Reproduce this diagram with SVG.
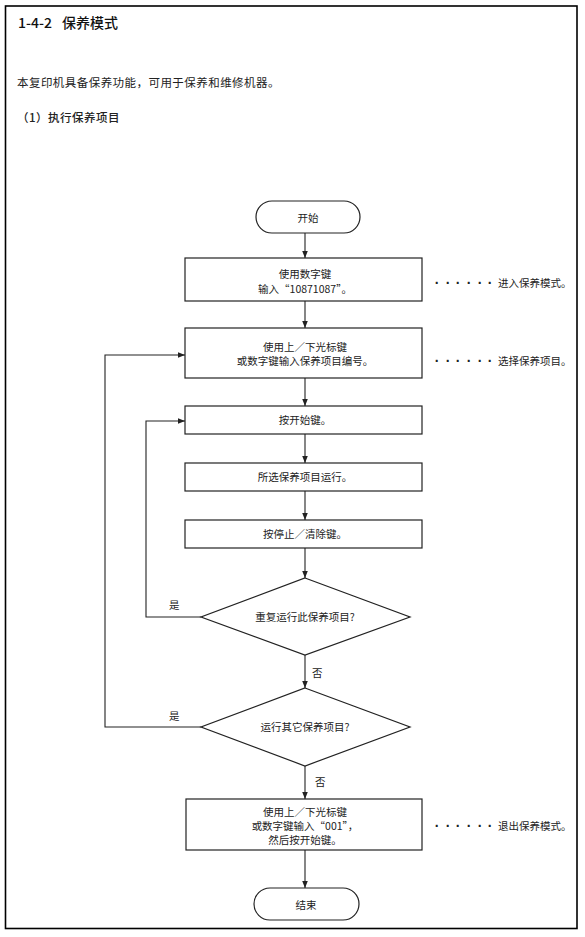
<svg xmlns="http://www.w3.org/2000/svg" width="585" height="937" viewBox="0 0 585 937">
<defs>
<marker id="ah" markerWidth="8" markerHeight="8" refX="7" refY="4" orient="auto" markerUnits="userSpaceOnUse">
<path d="M0,1.2 L7,4 L0,6.8 Z" fill="#222"/>
</marker>
<style>
.t{font-family:"Noto Sans CJK SC","Liberation Sans",sans-serif;font-size:10.5px;fill:#222;text-anchor:middle}
.s{font-family:"Noto Sans CJK SC","Liberation Sans",sans-serif;font-size:10.5px;fill:#222}
.d{font-family:"Liberation Sans",sans-serif;font-size:14px;font-weight:bold;fill:#222;text-anchor:middle}
.n{fill:#fff;stroke:#222;stroke-width:1.2}
.c{fill:none;stroke:#222;stroke-width:1.1;marker-end:url(#ah)}
</style>
</defs>
<rect x="0" y="0" width="585" height="937" fill="#fff"/>
<rect x="5.5" y="6" width="571.5" height="922.5" fill="none" stroke="#000" stroke-width="1.6"/>
<text x="18" y="28" font-family="Noto Sans CJK SC,Liberation Sans,sans-serif" font-size="14" font-weight="500" fill="#111">1-4-2</text>
<text x="62" y="28" font-family="Noto Sans CJK SC,Liberation Sans,sans-serif" font-size="14" font-weight="500" fill="#111">保养模式</text>
<text x="17" y="87" font-family="Noto Sans CJK SC,Liberation Sans,sans-serif" font-size="11.5" fill="#222" letter-spacing="0.45">本复印机具备保养功能，可用于保养和维修机器。</text>
<text x="17" y="122" font-family="Noto Sans CJK SC,Liberation Sans,sans-serif" font-size="11.5" font-weight="500" fill="#222" letter-spacing="0.5">（1）执行保养项目</text>

<g id="connectors">
<line class="c" x1="305" y1="233" x2="305" y2="258"/>
<line class="c" x1="305" y1="301" x2="305" y2="328"/>
<line class="c" x1="305" y1="378" x2="305" y2="406"/>
<line class="c" x1="305" y1="434" x2="305" y2="463"/>
<line class="c" x1="305" y1="491" x2="305" y2="520"/>
<line class="c" x1="305" y1="548" x2="305" y2="578"/>
<line class="c" x1="305" y1="655" x2="305" y2="688"/>
<line class="c" x1="305" y1="766" x2="305" y2="799"/>
<line class="c" x1="305" y1="850" x2="305" y2="888"/>
<polyline class="c" points="201,617 146,617 146,421 185,421"/>
<polyline class="c" points="201,727 105,727 105,355 185,355"/>
<text class="s" x="169" y="609">是</text>
<text class="s" x="169" y="720">是</text>
<text class="s" x="312" y="677">否</text>
<text class="s" x="315" y="786">否</text>
</g>

<g id="start">
<rect class="n" x="256" y="201" width="104" height="32" rx="16"/>
<text class="t" x="308" y="222">开始</text>
</g>
<g id="step1">
<rect class="n" x="185" y="258" width="237" height="43"/>
<text class="t" x="305" y="278">使用数字键</text>
<text class="t" x="305" y="293">输入“10871087”。</text>
</g>
<g id="note1">
<text class="d" x="437 448 458 469 480 490" y="288">······</text>
<text class="s" x="498" y="287">进入保养模式。</text>
</g>
<g id="step2">
<rect class="n" x="185" y="328" width="237" height="50"/>
<text class="t" x="305" y="351">使用上／下光标键</text>
<text class="t" x="305" y="365">或数字键输入保养项目编号。</text>
</g>
<g id="note2">
<text class="d" x="437 448 458 469 480 490" y="366">······</text>
<text class="s" x="498" y="365">选择保养项目。</text>
</g>
<g id="step3">
<rect class="n" x="185" y="406" width="237" height="28"/>
<text class="t" x="305" y="424">按开始键。</text>
</g>
<g id="step4">
<rect class="n" x="185" y="463" width="237" height="28"/>
<text class="t" x="305" y="481">所选保养项目运行。</text>
</g>
<g id="step5">
<rect class="n" x="185" y="520" width="237" height="28"/>
<text class="t" x="305" y="538">按停止／清除键。</text>
</g>
<g id="decision1">
<polygon class="n" points="305,578 410,617 305,655 201,617"/>
<text class="t" x="305" y="621">重复运行此保养项目?</text>
</g>
<g id="decision2">
<polygon class="n" points="305,688 410,727 305,766 201,727"/>
<text class="t" x="305" y="731">运行其它保养项目?</text>
</g>
<g id="step6">
<rect class="n" x="186" y="799" width="236" height="51"/>
<text class="t" x="305" y="816">使用上／下光标键</text>
<text class="t" x="305" y="830">或数字键输入“001”，</text>
<text class="t" x="305" y="844">然后按开始键。</text>
</g>
<g id="note3">
<text class="d" x="437 448 458 469 480 490" y="831">······</text>
<text class="s" x="498" y="830">退出保养模式。</text>
</g>
<g id="end">
<rect class="n" x="254" y="888" width="105" height="32" rx="16"/>
<text class="t" x="306" y="909">结束</text>
</g>
</svg>
